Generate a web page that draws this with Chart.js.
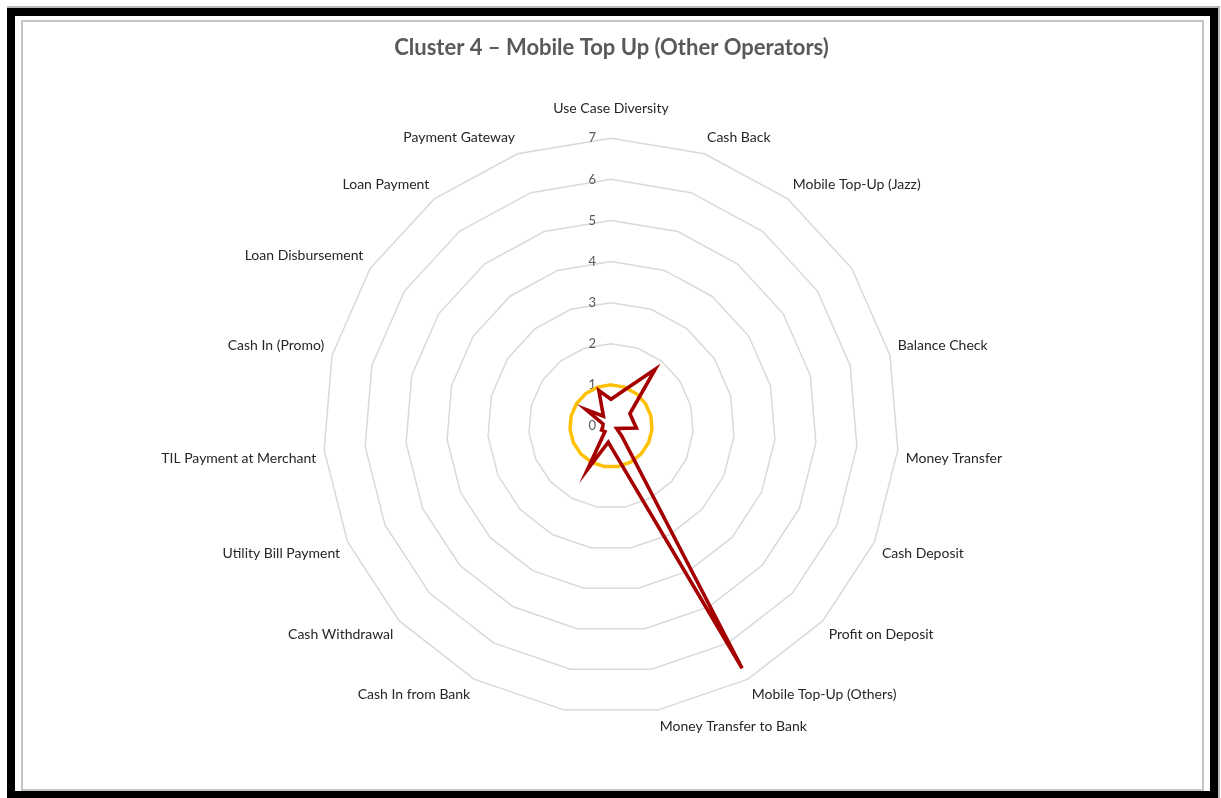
<!DOCTYPE html>
<html>
<head>
<meta charset="utf-8">
<script src="https://cdn.jsdelivr.net/npm/chart.js@4"></script>
<style>
  html, body { margin: 0; padding: 0; background: #ffffff; }
  body { width: 1221px; height: 798px; position: relative; overflow: hidden; }
  .frame-outer {
    position: absolute; left: 7px; top: 8px; width: 1195px; height: 775px;
    border: 8px solid #000000;
    box-shadow: 1px -1px 0 1px #b8b8b8;
  }
  .frame-inner {
    position: absolute; left: 21px; top: 20px; width: 1179px; height: 767px;
    border: 2px solid #c6c6c6;
  }
  #chart { position: absolute; left: 0; top: 0; }
</style>
</head>
<body>
<div class="frame-outer"></div>
<div class="frame-inner"></div>
<canvas id="chart" width="1221" height="798"></canvas>
<script>
// Use-case categories around the radar (two unnamed spokes)
const categories = [
  'Use Case Diversity', 'Cash Back', 'Mobile Top-Up (Jazz)', '', 'Balance Check',
  'Money Transfer', 'Cash Deposit', 'Profit on Deposit', 'Mobile Top-Up (Others)',
  'Money Transfer to Bank', '', 'Cash In from Bank', 'Cash Withdrawal',
  'Utility Bill Payment', 'TIL Payment at Merchant', 'Cash In (Promo)',
  'Loan Disbursement', 'Loan Payment', 'Payment Gateway'
];

// Cluster 4 profile
const clusterValues = [
  0.65, 0.9, 1.75, 0.55, 0.55,
  0.62, 0.15, 0.35, 6.7,
  0.71, 0.4, 1.2, 0.2,
  0.25, 0.2, 0.2,
  0.73, 0.3, 0.91
];

// Reference level
const baselineValues = [
  1, 1, 1, 1, 1,
  1, 1, 1, 1,
  1, 1, 1, 1,
  1, 1, 1,
  1, 1, 1
];

const tickValues = [0, 1, 2, 3, 4, 5, 6, 7];

const titleText = 'Cluster 4 \u2013 Mobile Top Up (Other Operators)';

// Radial value labels drawn beside the vertical axis, beneath the series
const axisValueLabels = {
  id: 'axisValueLabels',
  beforeDatasetsDraw(chart) {
    const scale = chart.scales.r;
    const ctx = chart.ctx;
    ctx.save();
    ctx.font = '13px Lato';
    ctx.fillStyle = '#595959';
    ctx.textAlign = 'right';
    ctx.textBaseline = 'middle';
    tickValues.forEach(v => {
      const d = scale.getDistanceFromCenterForValue(v);
      ctx.fillText(String(v), scale.xCenter - 15, scale.yCenter - d);
    });
    ctx.restore();
  }
};

new Chart(document.getElementById('chart'), {
  type: 'radar',
  data: {
    labels: categories,
    datasets: [
      {
        label: 'Cluster 4',
        data: clusterValues,
        borderColor: '#a50000',
        borderWidth: 3.6,
        pointRadius: 0,
        fill: false,
        order: 0
      },
      {
        label: 'Baseline',
        data: baselineValues,
        borderColor: '#ffc000',
        borderWidth: 3.5,
        pointRadius: 0,
        fill: false,
        order: 1
      }
    ]
  },
  options: {
    responsive: false,
    devicePixelRatio: 1,
    animation: false,
    layout: { padding: { left: 2, right: 0, top: 0, bottom: 54 } },
    elements: { line: { tension: 0, borderJoinStyle: 'miter' } },
    plugins: {
      legend: { display: false },
      tooltip: { enabled: false },
      title: {
        display: true,
        text: titleText,
        color: '#595959',
        font: { family: 'Lato', size: 22, weight: 'bold' },
        padding: { top: 35, bottom: 31 }
      }
    },
    scales: {
      r: {
        min: 0,
        max: 7,
        ticks: { stepSize: 1, display: false },
        grid: { color: '#d9d9d9', lineWidth: 1.5 },
        angleLines: { display: false },
        pointLabels: {
          color: '#262626',
          font: { family: 'Lato', size: 14 },
          padding: (c) => (c.index === 0 ? 21 : 8)
        }
      }
    }
  },
  plugins: [axisValueLabels]
});
</script>
</body>
</html>
